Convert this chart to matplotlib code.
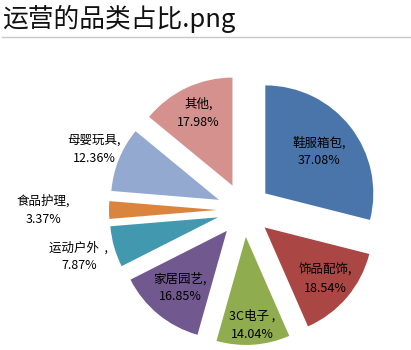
import matplotlib
matplotlib.use('Agg')
import matplotlib.pyplot as plt
import numpy as np

plt.rcParams['font.family'] = ['Noto Sans CJK SC', 'DejaVu Sans']

names = ['鞋服箱包', '饰品配饰', '3C电子 ', '家居园艺', '运动户外  ', '食品护理', '母婴玩具', '其他']
values = [37.08, 18.54, 14.04, 16.85, 7.87, 3.37, 12.36, 17.98]
colors = ['#4a75ab', '#aa4643', '#8fac4f', '#71588f', '#4198af', '#db843d', '#93a9cf', '#d4918e']

explode = 0.25
# radial distance of each label from its wedge's (exploded) centre
lab_r = [0.63, 0.74, 0.82, 0.68, 1.34, 1.61, 1.25, 0.74]

fig = plt.figure(figsize=(4.11, 3.5), dpi=100)
fig.patch.set_facecolor('white')

# title and rule
fig.text(0.006, 0.945, '运营的品类占比.png', fontsize=18.5, ha='left', va='center', color='#111111')
fig.add_artist(plt.Line2D([0.005, 1.0], [0.893, 0.893], color='#c8c8c8', lw=1))

ax = fig.add_axes([0, 0, 1, 1])
wedges, _ = ax.pie(values, colors=colors, startangle=90, counterclock=False,
                   explode=[explode] * len(values), radius=1.0,
                   wedgeprops=dict(linewidth=0))

for w, n, v, r in zip(wedges, names, values, lab_r):
    mid = np.deg2rad((w.theta1 + w.theta2) / 2)
    d = explode + r
    ax.text(d * np.cos(mid), d * np.sin(mid), '%s,\n%.2f%%' % (n, v),
            ha='center', va='center', fontsize=9, linespacing=1.5, color='black')

ax.set_xlim(-244 / 108, (411 - 244) / 108)
ax.set_ylim(-140 / 108, 210 / 108)
ax.set_aspect('auto')
ax.axis('off')

fig.savefig('out.png', dpi=100)
